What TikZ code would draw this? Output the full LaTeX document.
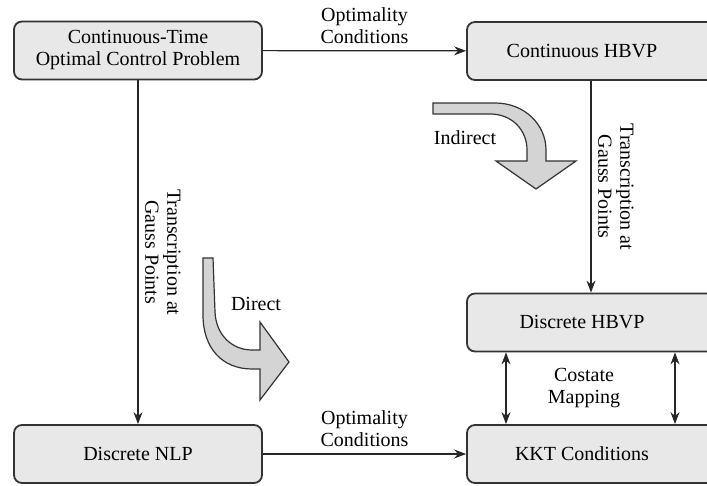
\documentclass[tikz,border=0pt]{standalone}
\usepackage{fontspec}
\setmainfont{Liberation Serif}
\usetikzlibrary{arrows.meta}
\definecolor{boxgray}{gray}{0.91}
\definecolor{bendgray}{gray}{0.83}
\begin{document}
\begin{tikzpicture}[x=0.5pt, y=-0.5pt,
    every node/.style={font=\fontsize{10}{11}\selectfont},
    box/.style={draw=black!80, fill=boxgray, line width=0.9pt, rounded corners=4pt,
        minimum width=124pt, minimum height=29pt, align=center},
    rbox/.style={box, execute at begin node={\hspace*{-9pt}}},
    conn/.style={-{Stealth[length=6pt,width=4.5pt]}, line width=0.6pt, draw=black!85},
    dconn/.style={{Stealth[length=6pt,width=4.5pt]}-{Stealth[length=6pt,width=4.5pt]}, line width=0.6pt, draw=black!85},
    bentarrow/.style={draw=black!80, fill=bendgray, line width=0.6pt}]
    \useasboundingbox (0,0) rectangle (707,486);
    % boxes
    \node[box] (ocp) at (138,50.5) {Continuous-Time\\Optimal Control Problem};
    \node[rbox] (chbvp) at (591,51) {Continuous HBVP};
    \node[rbox] (dhbvp) at (591,322.5) {Discrete HBVP};
    \node[box] (nlp) at (138,454) {Discrete NLP};
    \node[rbox] (kkt) at (591,454) {KKT Conditions};
    % connectors
    \draw[conn] (ocp) -- (chbvp) node[midway, above, align=center] {Optimality\\Conditions};
    \draw[conn] (nlp) -- (kkt) node[midway, above, align=center] {Optimality\\Conditions};
    \draw[conn] (ocp) -- (nlp) node[midway, anchor=south, rotate=-90, align=center] {Transcription at\\Gauss Points};
    \draw[conn] (chbvp) -- (dhbvp) node[midway, anchor=south, rotate=-90, align=center] {Transcription at\\Gauss Points};
    \draw[dconn] ([xshift=-42.5pt]dhbvp.south) -- ([xshift=-42.5pt]kkt.north);
    \draw[dconn] ([xshift=42pt]dhbvp.south) -- ([xshift=42pt]kkt.north);
    \node (costate) at (584,388) [align=center] {Costate\\Mapping};
    % bent arrows
    \filldraw[bentarrow] (433,103) -- (495,103) .. controls (525,103) and (546,125) .. (546,150)
        -- (546,161) -- (576,161) -- (536,189) -- (496,161) -- (527,161) -- (527,150)
        .. controls (527,130) and (512,114) .. (490,114) -- (433,114) -- cycle;
    \node (indirect) at (465,138) {Indirect};
    \filldraw[bentarrow] (203,258) -- (213,258) -- (215,312) .. controls (216,335) and (232,350) .. (252,350)
        -- (260,350) -- (260,322) -- (289,362) -- (260,400) -- (260,369) -- (252,369)
        .. controls (222,369) and (203,348) .. (203,315) -- cycle;
    \node (direct) at (256,304) {Direct};
\end{tikzpicture}
\end{document}
